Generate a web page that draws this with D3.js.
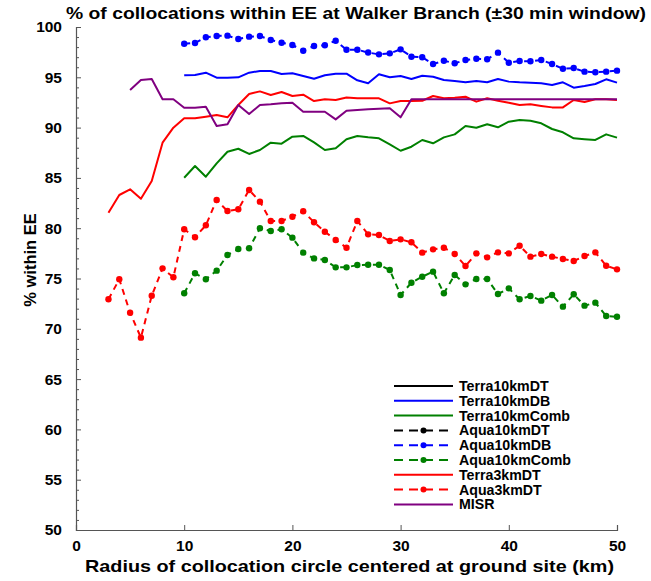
<!DOCTYPE html>
<html><head><meta charset="utf-8">
<script src="https://cdn.jsdelivr.net/npm/d3@7"></script>
<style>
body{margin:0;background:#fff;}
text{font-family:"Liberation Sans",Arial,Helvetica,sans-serif;font-weight:bold;}
</style></head>
<body><svg id="c" width="651" height="581"></svg>
<script>
// ---- data ----
const km3 = [3,4,5,6,7,8,9,10,11,12,13,14,15,16,17,18,19,20,21,22,23,24,25,26,27,28,29,30,31,32,33,34,35,36,37,38,39,40,41,42,43,44,45,46,47,48,49,50];
const km5 = km3.slice(2);
const km10 = km3.slice(7);
const terra10kmDT = [];
const terra10kmDB = [95.2,95.23,95.46,94.96,94.96,95.0,95.46,95.63,95.63,95.33,95.4,95.13,94.86,95.2,95.36,95.36,94.7,94.4,95.3,95.0,95.13,94.83,95.16,95.06,94.73,94.63,94.5,94.63,94.5,94.83,94.57,94.5,94.47,94.4,94.23,94.5,93.97,94.13,94.33,94.8,94.47];
const terra10kmComb = [85.02,86.18,85.12,86.45,87.6,87.9,87.38,87.77,88.5,88.4,89.1,89.17,88.53,87.77,87.94,88.84,89.17,89.03,88.93,88.34,87.7,88.1,88.77,88.44,89.03,89.33,90.16,89.99,90.33,90.03,90.59,90.76,90.69,90.43,89.86,89.53,88.93,88.84,88.77,89.33,89.0];
const aqua10kmDT = [];
const aqua10kmDB = [98.34,98.41,98.98,99.1,99.14,98.81,99.04,99.1,98.71,98.44,98.21,97.64,98.11,98.18,98.64,97.74,97.74,97.46,97.28,97.38,97.78,97.05,96.99,96.32,96.65,96.39,96.72,96.85,96.79,97.45,96.45,96.62,96.59,96.72,96.32,95.85,95.92,95.56,95.5,95.56,95.66];
const aqua10kmComb = [73.53,75.52,74.92,75.78,77.34,77.93,78.0,79.99,79.72,79.89,79.06,77.57,77.0,76.84,76.11,76.11,76.34,76.37,76.37,75.85,73.36,74.58,75.18,75.68,73.53,75.35,74.42,74.95,74.95,73.46,74.02,72.93,73.26,72.8,73.36,72.2,73.43,72.3,72.6,71.27,71.2];
const terra3kmDT = [81.54,83.3,83.87,82.93,84.69,88.5,89.99,90.92,90.92,91.08,91.25,91.02,92.25,93.34,93.6,93.24,93.54,93.14,93.27,92.64,92.81,92.74,93.0,92.91,92.91,92.91,92.41,92.64,92.64,92.67,93.14,92.91,92.97,93.07,92.58,92.91,92.67,92.48,92.25,92.31,92.15,92.01,92.01,92.74,92.54,92.81,92.81,92.74];
const aqua3kmDT = [72.93,74.92,71.6,69.12,73.29,76.01,75.12,79.89,79.1,80.29,82.8,81.71,81.88,83.8,82.64,80.72,80.72,81.14,81.68,80.59,79.65,78.83,78.06,80.72,79.39,79.32,78.73,78.89,78.6,77.57,77.9,78.06,77.44,76.24,77.5,77.1,77.6,77.5,78.26,77.17,77.44,77.17,76.94,76.74,77.24,77.6,76.27,75.91];
const misr = [93.74,94.73,94.83,92.81,92.81,91.98,91.98,92.08,90.16,90.33,92.25,91.35,92.25,92.31,92.41,92.48,91.58,91.58,91.58,90.82,91.68,91.75,91.82,91.87,91.92,91.02,92.81,92.81,92.81,92.81,92.81,92.81,92.81,92.81,92.81,92.81,92.81,92.81,92.81,92.81,92.81,92.81,92.81,92.81,92.81,92.81];
const xTicks = [0,10,20,30,40,50];
const yTicks = [50,55,60,65,70,75,80,85,90,95,100];
const seriesNames = ["Terra10kmDT","Terra10kmDB","Terra10kmComb","Aqua10kmDT","Aqua10kmDB","Aqua10kmComb","Terra3kmDT","Aqua3kmDT","MISR"];

const series = [
  {name:seriesNames[0], x:km10, y:terra10kmDT, color:"#000000", dashed:false},
  {name:seriesNames[1], x:km10, y:terra10kmDB, color:"#0000ff", dashed:false},
  {name:seriesNames[2], x:km10, y:terra10kmComb, color:"#008000", dashed:false},
  {name:seriesNames[3], x:km10, y:aqua10kmDT, color:"#000000", dashed:true},
  {name:seriesNames[4], x:km10, y:aqua10kmDB, color:"#0000ff", dashed:true},
  {name:seriesNames[5], x:km10, y:aqua10kmComb, color:"#008000", dashed:true},
  {name:seriesNames[6], x:km3, y:terra3kmDT, color:"#ff0000", dashed:false},
  {name:seriesNames[7], x:km3, y:aqua3kmDT, color:"#ff0000", dashed:true},
  {name:seriesNames[8], x:km5, y:misr, color:"#800080", dashed:false}
];

const svg = d3.select("#c");
const x = d3.scaleLinear().domain([0,50]).range([76,617]);
const y = d3.scaleLinear().domain([50,100]).range([530,27]);

// axes
const axisColor = "#555";
svg.append("g").attr("transform","translate(0,530)")
  .call(d3.axisBottom(x).tickValues(xTicks).tickSize(-5).tickPadding(10).tickFormat(d3.format("d")));
svg.append("g").attr("transform","translate(76,0)")
  .call(d3.axisLeft(y).tickValues(yTicks).tickSize(-5).tickPadding(14).tickFormat(d3.format("d")));
svg.append("g").attr("transform","translate(76,0)")
  .call(d3.axisLeft(y).tickValues(d3.range(50,101,1).filter(v=>v%5!==0)).tickSize(-3).tickFormat(""))
  .call(g=>g.select(".domain").remove());
svg.selectAll(".domain").attr("stroke",axisColor).attr("stroke-width",1.2);
svg.selectAll(".tick line").attr("stroke",axisColor);
svg.selectAll(".tick text").attr("fill","#000").style("font-size","15.5px").style("font-weight","bold");

// lines
const line = d3.line().x(d=>x(d[0])).y(d=>y(d[1]));
series.forEach(s=>{
  const pts = s.y.map((v,i)=>[s.x[i],v]);
  if(!pts.length) return;
  svg.append("path").datum(pts).attr("d",line).attr("fill","none")
    .attr("stroke",s.color).attr("stroke-width",2)
    .attr("stroke-dasharray", s.dashed ? "6,5" : null)
    .attr("stroke-linejoin","round");
  if(s.dashed){
    svg.append("g").selectAll("circle").data(pts).join("circle")
      .attr("cx",d=>x(d[0])).attr("cy",d=>y(d[1])).attr("r",3.2).attr("fill",s.color);
  }
});

// legend
const lg = svg.append("g");
series.forEach((s,i)=>{
  const yy = 386 + i*14.8;
  lg.append("line").attr("x1",394).attr("x2",453).attr("y1",yy).attr("y2",yy)
    .attr("stroke",s.color).attr("stroke-width",2)
    .attr("stroke-dasharray", s.dashed ? "9,6" : null);
  if(s.dashed) lg.append("circle").attr("cx",423.5).attr("cy",yy).attr("r",3).attr("fill",s.color);
  lg.append("text").attr("x",459).attr("y",yy+5).text(s.name).style("font-size","14.2px");
});

// titles
svg.append("text").attr("x",66).attr("y",19)
  .attr("textLength",580).attr("lengthAdjust","spacingAndGlyphs")
  .style("font-size","17px").text("% of collocations within EE at Walker Branch (\u00B130 min window)");
svg.append("text").attr("x",85).attr("y",572)
  .attr("textLength",529).attr("lengthAdjust","spacingAndGlyphs")
  .style("font-size","17px").text("Radius of collocation circle centered at ground site (km)");
svg.append("text").attr("transform","translate(36,260) rotate(-90)").attr("text-anchor","middle")
  .style("font-size","16.5px").text("% within EE");
</script></body></html>
